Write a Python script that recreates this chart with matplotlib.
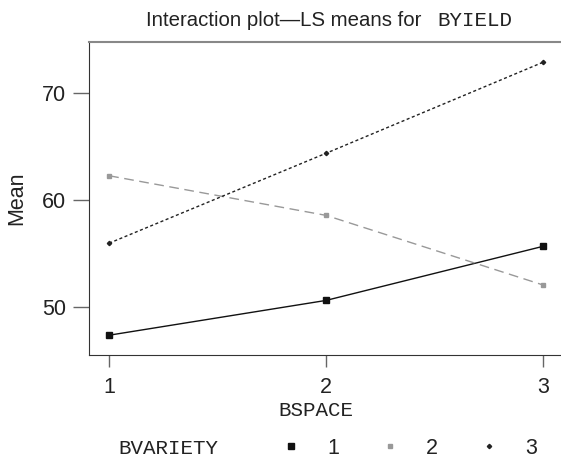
"""
Interaction plot - LS means for BYIELD by BSPACE and BVARIETY.
"""
import matplotlib
matplotlib.use("Agg")
import matplotlib.pyplot as plt
from matplotlib.lines import Line2D

SANS = "Liberation Sans"
MONO = "Liberation Mono"

bspace = [1, 2, 3]
variety_labels = ["1", "2", "3"]
variety1 = [47.4, 50.65, 55.7]
variety2 = [62.3, 58.6, 52.1]
variety3 = [56.0, 64.4, 72.9]
yticks = [50, 60, 70]

fig = plt.figure(figsize=(5.61, 4.59), dpi=100)
ax = fig.add_axes([89 / 561, 1 - 355 / 459, 1 - 89 / 561 + 0.002, (355 - 42) / 459])

styles = [
    dict(color="#111111", ls="-", lw=1.0, marker="s", ms=4.5, mfc="#111111", mec="#111111"),
    dict(color="#999999", ls=(0, (7, 4)), lw=1.0, marker="s", ms=3.5, mfc="#999999", mec="#999999"),
    dict(color="#222222", ls=(0, (2.2, 1.8)), lw=1.0, marker="D", ms=2.2, mfc="#222222", mec="#222222"),
]
series = [variety1, variety2, variety3]
handles = []
for vals, st in zip(series, styles):
    ax.plot(bspace, vals, **st)
    handles.append(Line2D([], [], ls="none", marker=st["marker"], ms=st["ms"],
                          mfc=st["mfc"], mec=st["mec"]))

ax.set_xlim(0.907, 3.089)
ax.set_ylim(45.55, 74.8)
ax.set_xticks(bspace)
ax.set_xticklabels([str(b) for b in bspace], fontfamily=SANS, fontsize=15.5)
ax.set_yticks(yticks)
ax.set_yticklabels([str(t) for t in yticks], fontfamily=SANS, fontsize=15.5)
ax.tick_params(axis="y", length=11.5, width=1, color="#666666", pad=5, labelcolor="#222222")
ax.tick_params(axis="x", length=8.5, width=1, color="#666666", pad=7, labelcolor="#222222")
for side in ["left", "bottom"]:
    ax.spines[side].set_color("#333333")
ax.spines["top"].set_color("#888888")
ax.spines["top"].set_linewidth(1.5)
ax.spines["right"].set_visible(False)

ax.set_ylabel("Mean", fontfamily=SANS, fontsize=15.5, color="#222222")
ax.yaxis.set_label_coords(-0.131, 0.5)

# title: sans part + monospace variable name
fig.text(421 / 561, 1 - 21 / 459, "Interaction plot\u2014LS means for", fontfamily=SANS,
         fontsize=14.7, ha="right", va="center", color="#222222")
fig.text(437 / 561, 1 - 21 / 459, "BYIELD", fontfamily=MONO, fontsize=15,
         ha="left", va="center", color="#222222")

fig.text(316 / 561, 1 - 411 / 459, "BSPACE", fontfamily=MONO, fontsize=15,
         ha="center", va="center", color="#222222")
fig.text(168 / 561, 1 - 449 / 459, "BVARIETY", fontfamily=MONO, fontsize=15,
         ha="center", va="center", color="#222222")

fig.legend(handles, variety_labels, loc="center left", ncol=3,
           bbox_to_anchor=(280 / 561, 1 - 448 / 459), frameon=False,
           prop={"family": SANS, "size": 15.5}, handlelength=1.0, labelcolor="#222222",
           handletextpad=1.19, columnspacing=1.86, borderpad=0, borderaxespad=0)

fig.savefig("out.png", dpi=100)
